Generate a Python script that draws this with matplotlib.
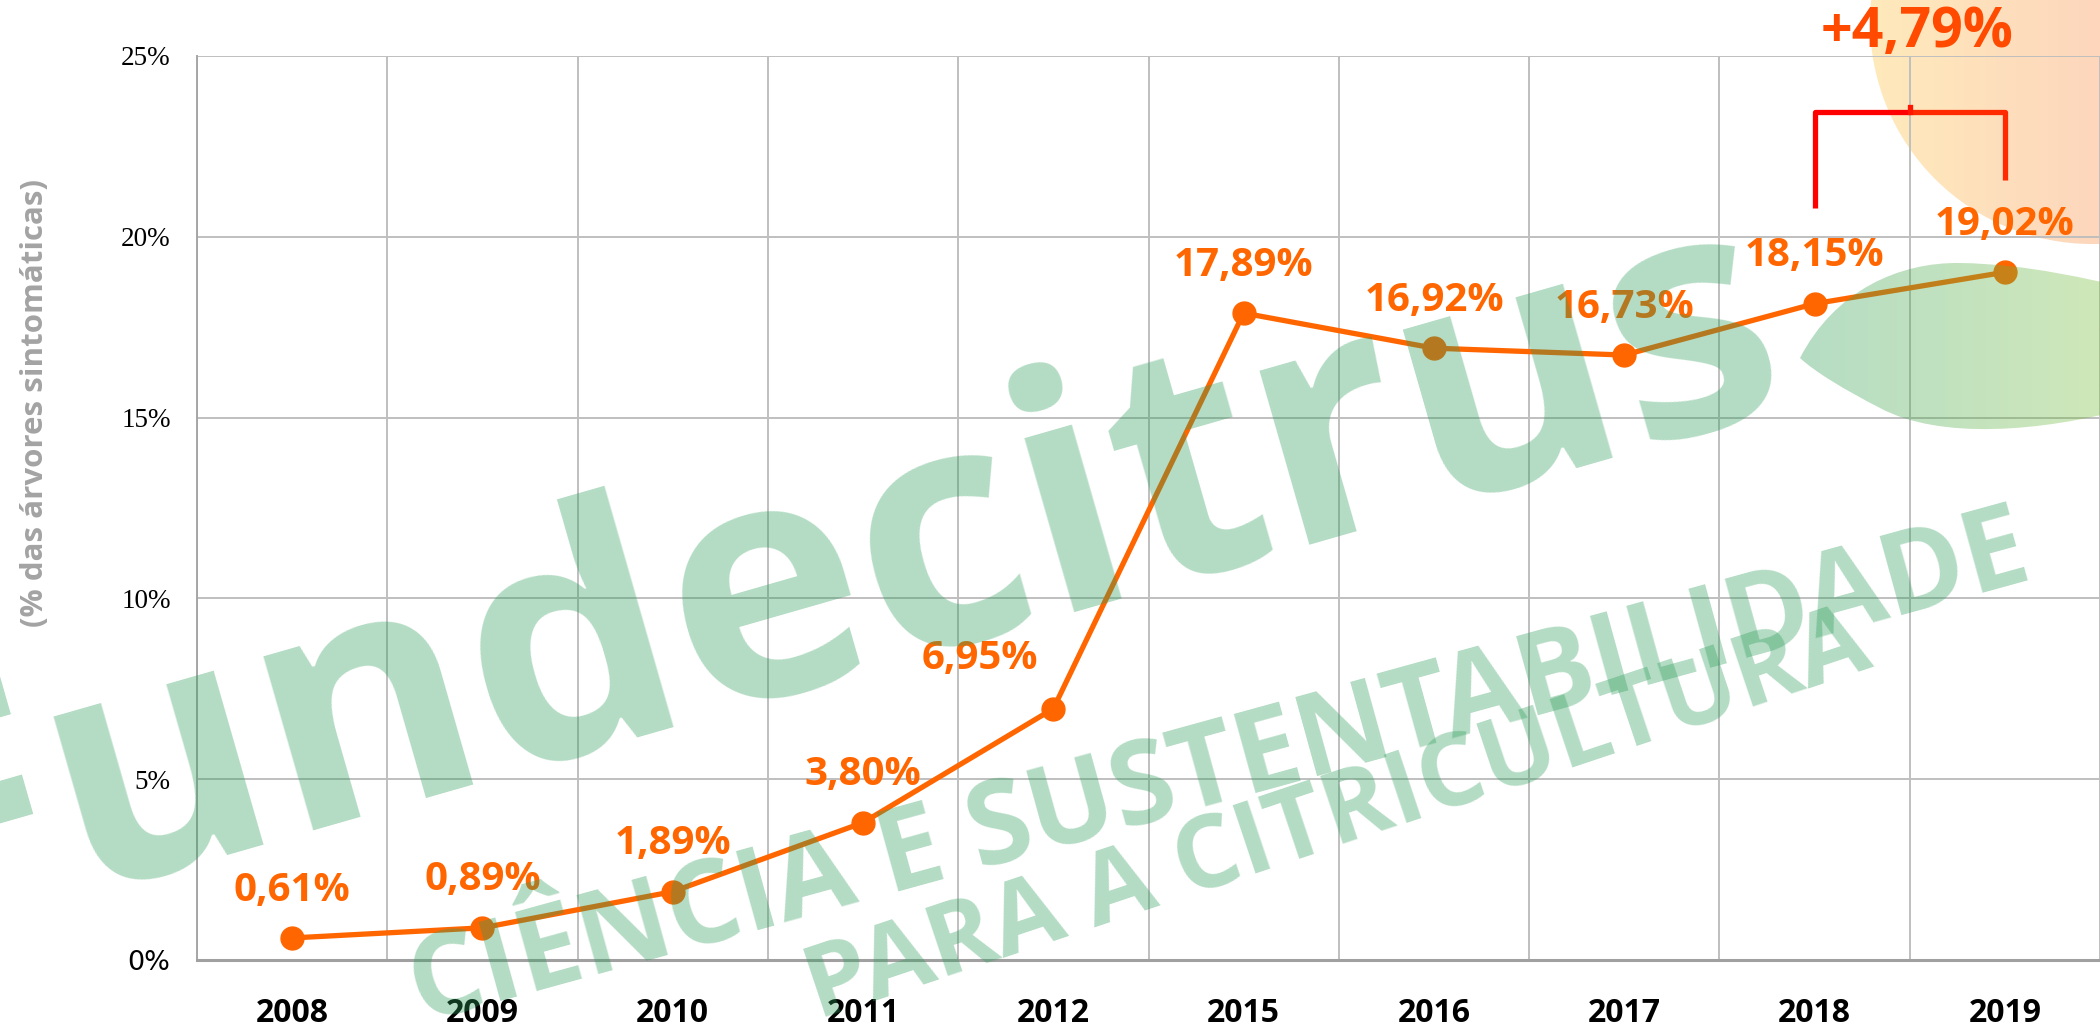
import numpy as np
import matplotlib.pyplot as plt
from matplotlib.path import Path
from matplotlib.patches import PathPatch, Circle

# data
years = ["2008", "2009", "2010", "2011", "2012", "2015", "2016", "2017", "2018", "2019"]
values = [0.61, 0.89, 1.89, 3.80, 6.95, 17.89, 16.92, 16.73, 18.15, 19.02]
labels = ["0,61%", "0,89%", "1,89%", "3,80%", "6,95%", "17,89%", "16,92%", "16,73%", "18,15%", "19,02%"]
yticks = [0, 5, 10, 15, 20, 25]
ytick_labels = ["0%", "5%", "10%", "15%", "20%", "25%"]
delta_label = "+4,79%"

W, H = 2100, 1027
orange = "#FF6600"
green = (46 / 255, 158 / 255, 91 / 255)

fig = plt.figure(figsize=(W / 100, H / 100), dpi=100)

# background layer (logo fruit), pixel coordinates
bg = fig.add_axes([0, 0, 1, 1], zorder=0)
bg.set_xlim(0, W)
bg.set_ylim(H, 0)
bg.axis("off")
grad = np.linspace(0, 1, 256)[None, :]
c1 = np.array([255, 233, 180]) / 255
c2 = np.array([253, 210, 182]) / 255
img = c1[None, None, :] * (1 - grad[..., None]) + c2[None, None, :] * grad[..., None]
im = bg.imshow(img, extent=(1860, 2100, 260, 0), aspect="auto", alpha=0.9, zorder=1)
circ = Circle((2092, 22), 222, transform=bg.transData, facecolor="none", edgecolor="none")
bg.add_patch(circ)
im.set_clip_path(circ)

# main chart
ax = fig.add_axes([197 / W, (H - 960) / H, 1903 / W, 904 / H], zorder=1)
ax.set_facecolor("none")
x = np.arange(len(years))
ax.plot(x, values, color=orange, lw=3.8, marker="o", ms=16.5, zorder=3, clip_on=False)

for i, (v, t) in enumerate(zip(values, labels)):
    off = (-53, 36) if t == "6,95%" else (0, 34.5)
    ax.annotate(t, (i, v), xytext=off, textcoords="offset points", ha="center", va="center",
                fontsize=29, fontweight="bold", family="Open Sans", color=orange, zorder=4)

ax.set_xlim(-0.5, len(years) - 0.5)
ax.set_ylim(0, 25)
ax.set_xticks(x)
ax.set_xticklabels(years, fontsize=23, fontweight="bold", family="Open Sans")
ax.set_xticks(np.arange(-0.5, len(years)), minor=True)
ax.set_yticks(yticks)
ax.set_yticklabels(ytick_labels, fontsize=19.5, family="Liberation Serif")
ax.get_yticklabels()[0].set_family(["Liberation Sans Narrow", "DejaVu Sans"])
ax.tick_params(axis="both", which="both", length=0)
ax.tick_params(axis="y", pad=19)
ax.tick_params(axis="x", pad=27)
ax.grid(axis="y", which="major", color="#BFBFBF", lw=1.4)
ax.grid(axis="x", which="minor", color="#BFBFBF", lw=1.4)
ax.set_axisbelow(True)
for s in ["top", "right"]:
    ax.spines[s].set_visible(False)
ax.spines["left"].set_color("#A6A6A6")
ax.spines["left"].set_linewidth(1.4)
ax.spines["bottom"].set_color("#A0A0A0")
ax.spines["bottom"].set_linewidth(2.2)
ax.set_ylabel("(% das árvores sintomáticas)", fontsize=22.5, fontweight="bold",
              family="Open Sans", color="#A3A3A3")
ax.yaxis.set_label_coords(-0.077, 0.616)

# top layer: watermark, leaf, bracket
top = fig.add_axes([0, 0, 1, 1], zorder=2)
top.set_xlim(0, W)
top.set_ylim(H, 0)
top.axis("off")
top.patch.set_alpha(0)

top.text(850, 668, "Fundecitrus", fontsize=238, fontweight="bold", family="Open Sans",
         color=green, alpha=0.36, rotation=16.0, rotation_mode="anchor",
         ha="center", va="baseline")
top.text(1220, 772, "CIÊNCIA E SUSTENTABILIDADE", fontsize=82, fontweight="bold",
         family="Open Sans", color=green, alpha=0.36, rotation=15.4,
         rotation_mode="anchor", ha="center", va="center")
top.text(1338, 818, "PARA A CITRICULTURA", fontsize=73, fontweight="bold",
         family="Open Sans", color=green, alpha=0.36, rotation=18.5,
         rotation_mode="anchor", ha="center", va="center")

# leaf
leaf_verts = [(1800, 358),
              (1835, 290), (1900, 262), (1960, 263),
              (2030, 264), (2090, 280), (2130, 288),
              (2130, 408),
              (2040, 432), (1940, 440), (1880, 408),
              (1845, 390), (1815, 372), (1800, 358)]
leaf_codes = [Path.MOVETO, Path.CURVE4, Path.CURVE4, Path.CURVE4,
              Path.CURVE4, Path.CURVE4, Path.CURVE4, Path.LINETO,
              Path.CURVE4, Path.CURVE4, Path.CURVE4,
              Path.CURVE4, Path.CURVE4, Path.CURVE4]
leaf = PathPatch(Path(leaf_verts, leaf_codes), facecolor="none", edgecolor="none",
                 transform=top.transData)
top.add_patch(leaf)
g1 = np.array(green)
g2 = np.array([120, 190, 60]) / 255
lg = np.linspace(0, 1, 256)[None, :, None]
limg = np.concatenate([g1 * (1 - lg) + g2 * lg, np.full((1, 256, 1), 0.36)], axis=2)
lim = top.imshow(limg, extent=(1790, 2100, 445, 255), aspect="auto", zorder=1)
lim.set_clip_path(leaf)

# bracket and delta label in data coordinates
top.plot([8, 8, 8.5], [20.8, 23.45, 23.45], color="#FF0000", lw=3.8,
         transform=ax.transData, clip_on=False, solid_capstyle="butt", zorder=5)
top.plot([8.5, 9, 9], [23.45, 23.45, 21.57], color="#FF2A00", lw=3.8,
         transform=ax.transData, clip_on=False, solid_capstyle="butt", zorder=5)
top.plot([8.5, 8.5], [23.45, 23.6], color="#FF1500", lw=3.8,
         transform=ax.transData, clip_on=False, zorder=5)
top.text(8.54, 25.66, delta_label, transform=ax.transData, fontsize=40, fontweight="bold",
         family="Open Sans", color="#FF4A00", ha="center", va="center", zorder=6)

fig.savefig("out.png", dpi=100)
